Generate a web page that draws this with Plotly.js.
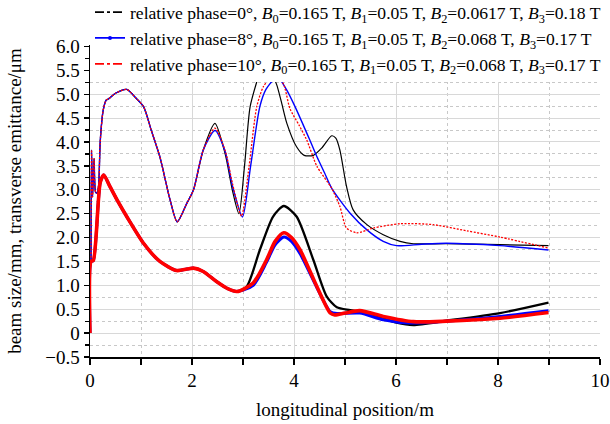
<!DOCTYPE html>
<html>
<head>
<meta charset="utf-8">
<script src="https://cdn.plot.ly/plotly-3.0.1.min.js"></script>
<style>html,body{margin:0;padding:0;background:#fff;}#chart{width:610px;height:424px;}</style>
</head>
<body>
<div id="chart"></div>
<script>
// ---- Emittance (upper) curves ----
const emitBlackX = [0.02, 0.03, 0.05, 0.08, 0.11, 0.14, 0.17, 0.2, 0.26, 0.32, 0.36, 0.5, 0.72, 0.9, 1.05, 1.2, 1.37, 1.57, 1.71, 1.9, 2.03, 2.22, 2.45, 2.65, 2.8, 2.92, 3.03, 3.14, 3.3, 3.43, 3.56, 3.66, 3.75, 3.86, 4.05, 4.2, 4.38, 4.55, 4.74, 4.82, 4.9, 5.03, 5.16, 5.43, 5.75, 6.08, 6.34, 6.99, 8.04, 8.99];
const emitBlackY = [1.5, 3.83, 2.85, 3.65, 2.95, 2.93, 3.1, 4.0, 4.67, 4.88, 4.9, 5.02, 5.10, 4.92, 4.74, 4.25, 3.69, 2.79, 2.33, 2.72, 3.0, 3.83, 4.39, 3.75, 2.95, 2.5, 3.5, 4.74, 5.37, 5.85, 5.45, 5.2, 4.85, 4.39, 3.9, 3.72, 3.72, 3.88, 4.13, 4.08, 3.83, 3.07, 2.58, 2.27, 2.06, 1.92, 1.87, 1.87, 1.85, 1.83];

const emitBlueX = [0.02, 0.03, 0.05, 0.08, 0.11, 0.14, 0.17, 0.2, 0.26, 0.32, 0.36, 0.5, 0.72, 0.9, 1.05, 1.2, 1.37, 1.57, 1.71, 1.9, 2.03, 2.22, 2.45, 2.65, 2.8, 2.99, 3.15, 3.33, 3.45, 3.6, 3.7, 3.85, 4.02, 4.31, 4.45, 4.6, 4.74, 5.1, 5.43, 5.75, 6.01, 6.5, 6.99, 8.04, 8.99];
const emitBlueY = [1.5, 3.83, 2.85, 3.65, 2.95, 2.93, 3.1, 4.0, 4.67, 4.88, 4.9, 5.02, 5.10, 4.92, 4.74, 4.25, 3.69, 2.79, 2.33, 2.72, 3.0, 3.83, 4.24, 3.8, 3.05, 2.43, 3.5, 4.74, 5.1, 5.3, 5.33, 5.1, 4.74, 4.04, 3.69, 3.35, 3.03, 2.51, 2.16, 1.92, 1.83, 1.86, 1.88, 1.83, 1.74];

const emitRedX = [0.02, 0.03, 0.05, 0.08, 0.11, 0.14, 0.17, 0.2, 0.26, 0.32, 0.36, 0.5, 0.72, 0.9, 1.05, 1.2, 1.37, 1.57, 1.71, 1.9, 2.03, 2.22, 2.45, 2.65, 2.8, 2.97, 3.12, 3.27, 3.4, 3.55, 3.68, 3.8, 3.92, 4.1, 4.25, 4.45, 4.74, 4.9, 5.03, 5.23, 5.56, 6.08, 6.73, 7.39, 8.04, 8.99];
const emitRedY = [1.5, 3.83, 2.85, 3.65, 2.95, 2.93, 3.1, 4.0, 4.67, 4.88, 4.9, 5.02, 5.10, 4.92, 4.74, 4.25, 3.69, 2.79, 2.33, 2.72, 3.0, 3.83, 4.29, 3.82, 3.1, 2.45, 3.5, 4.74, 5.16, 5.35, 5.38, 5.2, 4.70, 4.35, 4.04, 3.49, 3.03, 2.65, 2.20, 2.10, 2.20, 2.29, 2.27, 2.14, 2.01, 1.78];

// ---- Beam size (lower) curves ----
const sizeBlackX = [0, 0.02, 0.065, 0.2, 0.27, 0.39, 0.55, 0.72, 1.05, 1.37, 1.7, 1.9, 2.03, 2.22, 2.48, 2.7, 2.88, 3.07, 3.33, 3.59, 3.8, 4.05, 4.38, 4.64, 4.84, 5.1, 5.43, 6.01, 6.34, 6.99, 8.04, 8.99];
const sizeBlackY = [0, 1.5, 1.52, 3.15, 3.31, 3.07, 2.75, 2.44, 1.88, 1.50, 1.31, 1.34, 1.36, 1.29, 1.08, 0.93, 0.87, 0.97, 1.74, 2.44, 2.66, 2.44, 1.53, 0.77, 0.54, 0.48, 0.42, 0.22, 0.17, 0.26, 0.42, 0.64];

const sizeBlueX = [0, 0.02, 0.065, 0.2, 0.27, 0.39, 0.55, 0.72, 1.05, 1.37, 1.7, 1.9, 2.03, 2.22, 2.48, 2.7, 2.88, 3.2, 3.46, 3.63, 3.8, 3.95, 4.12, 4.45, 4.71, 4.84, 5.29, 5.75, 6.27, 6.99, 8.04, 8.99];
const sizeBlueY = [0, 1.5, 1.52, 3.15, 3.31, 3.07, 2.75, 2.44, 1.88, 1.50, 1.31, 1.34, 1.36, 1.29, 1.08, 0.93, 0.87, 1.0, 1.48, 1.85, 2.01, 1.92, 1.66, 0.95, 0.45, 0.41, 0.42, 0.28, 0.21, 0.25, 0.35, 0.47];

const sizeRedX = [0, 0.02, 0.065, 0.2, 0.27, 0.39, 0.55, 0.72, 1.05, 1.37, 1.7, 1.9, 2.03, 2.22, 2.48, 2.7, 2.88, 3.2, 3.46, 3.63, 3.8, 3.95, 4.12, 4.45, 4.71, 4.8, 5.0, 5.29, 5.75, 6.34, 6.99, 8.04, 8.99];
const sizeRedY = [0, 1.5, 1.52, 3.15, 3.31, 3.07, 2.75, 2.44, 1.88, 1.50, 1.31, 1.34, 1.36, 1.29, 1.08, 0.93, 0.87, 1.05, 1.53, 1.92, 2.10, 2.0, 1.74, 0.97, 0.42, 0.38, 0.42, 0.47, 0.35, 0.24, 0.25, 0.31, 0.43];

// ---- Labels ----
const legendNames = [
  'relative phase=0°, <i>B</i><sub>0</sub>=0.165 T, <i>B</i><sub>1</sub>=0.05 T, <i>B</i><sub>2</sub>=0.0617 T, <i>B</i><sub>3</sub>=0.18 T',
  'relative phase=8°, <i>B</i><sub>0</sub>=0.165 T, <i>B</i><sub>1</sub>=0.05 T, <i>B</i><sub>2</sub>=0.068 T, <i>B</i><sub>3</sub>=0.17 T',
  'relative phase=10°, <i>B</i><sub>0</sub>=0.165 T, <i>B</i><sub>1</sub>=0.05 T, <i>B</i><sub>2</sub>=0.068 T, <i>B</i><sub>3</sub>=0.17 T'
];
const xTickVals = [0, 2, 4, 6, 8, 10];
const xMinorVals = [1, 3, 5, 7, 9];
const yTickVals = [-0.5, 0, 0.5, 1, 1.5, 2, 2.5, 3, 3.5, 4, 4.5, 5, 5.5, 6];
const yTickText = ['−0.5', '0', '0.5', '1.0', '1.5', '2.0', '2.5', '3.0', '3.5', '4.0', '4.5', '5.0', '5.5', '6.0'];
const yMinorVals = [-0.25, 0.25, 0.75, 1.25, 1.75, 2.25, 2.75, 3.25, 3.75, 4.25, 4.75, 5.25, 5.75];
const xTitle = 'longitudinal position/m';
const yTitle = 'beam size/mm, transverse emittance/μm';

const FONT = '"Liberation Serif", "Times New Roman", serif';
const sm = 0.7;

const traces = [
  {x: emitBlackX, y: emitBlackY, mode: 'lines', line: {color: '#000000', width: 1.2, shape: 'spline', smoothing: sm}, showlegend: false},
  {x: emitBlueX, y: emitBlueY, mode: 'lines', line: {color: '#0000ff', width: 1.4, shape: 'spline', smoothing: sm}, showlegend: false},
  {x: emitRedX, y: emitRedY, mode: 'lines', line: {color: '#ff0000', width: 1.3, shape: 'spline', smoothing: sm, dash: '2px,1.5px'}, showlegend: false},
  {x: sizeBlackX, y: sizeBlackY, mode: 'lines', line: {color: '#000000', width: 2.3, shape: 'spline', smoothing: sm}, showlegend: false},
  {x: sizeBlueX, y: sizeBlueY, mode: 'lines', line: {color: '#0000ff', width: 3, shape: 'spline', smoothing: sm}, showlegend: false},
  {x: sizeRedX, y: sizeRedY, mode: 'lines', line: {color: '#ff0000', width: 3.6, shape: 'spline', smoothing: sm}, showlegend: false},
  {x: [null], y: [null], mode: 'lines', name: legendNames[0], line: {color: '#000000', width: 1.8, dash: 'dashdot'}},
  {x: [null], y: [null], mode: 'lines+markers', name: legendNames[1], line: {color: '#0000ff', width: 1.8}, marker: {color: '#0000ff', size: 4}},
  {x: [null], y: [null], mode: 'lines', name: legendNames[2], line: {color: '#ff0000', width: 1.8, dash: 'dashdot'}}
];

const layout = {
  width: 610, height: 424,
  margin: {l: 90, r: 10, t: 45, b: 67, autoexpand: false},
  paper_bgcolor: '#ffffff', plot_bgcolor: '#ffffff',
  font: {family: FONT, size: 18, color: '#000000'},
  showlegend: true,
  legend: {x: 0.0, y: 1.163, xanchor: 'left', yanchor: 'top', bgcolor: '#ffffff', borderwidth: 0,
           font: {family: FONT, size: 17.6, color: '#000000'}, itemwidth: 30, tracegroupgap: 0},
  xaxis: {
    range: [0, 10], tickmode: 'array', tickvals: xTickVals,
    ticks: 'outside', ticklen: 6, tickwidth: 1.3, tickcolor: '#000',
    showline: true, linecolor: '#000', linewidth: 1.5, zeroline: false,
    showgrid: true, gridcolor: '#d8d8d8', gridwidth: 1,
    minor: {tickmode: 'array', tickvals: xMinorVals, ticks: 'outside', ticklen: 6, tickwidth: 1.3, tickcolor: '#000',
            showgrid: true, gridcolor: '#c8c8c8', griddash: 'dot', gridwidth: 1},
    tickfont: {family: FONT, size: 19},
    title: {text: xTitle, font: {family: FONT, size: 19}, standoff: 12}
  },
  yaxis: {
    range: [-0.5, 6.03], tickmode: 'array', tickvals: yTickVals, ticktext: yTickText,
    ticks: 'outside', ticklen: 5, tickwidth: 1.3, tickcolor: '#000',
    showline: true, linecolor: '#000', linewidth: 1.5, zeroline: false,
    showgrid: true, gridcolor: '#d8d8d8', gridwidth: 1,
    minor: {tickmode: 'array', tickvals: yMinorVals, ticks: 'outside', ticklen: 4, tickwidth: 1.3, tickcolor: '#000',
            showgrid: true, gridcolor: '#c8c8c8', griddash: 'dot', gridwidth: 1},
    tickfont: {family: FONT, size: 19},
    title: {text: yTitle, font: {family: FONT, size: 19}, standoff: 18}
  }
};

Plotly.newPlot('chart', traces, layout, {displayModeBar: false, staticPlot: true});
</script>
</body>
</html>
